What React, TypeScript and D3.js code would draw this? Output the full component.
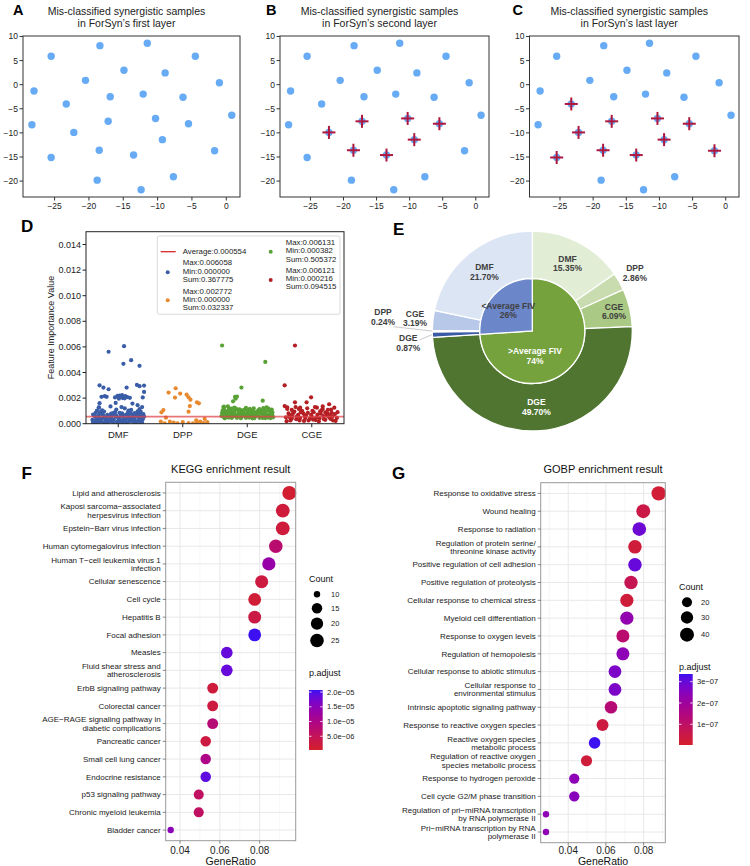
import React from "react";
import * as d3 from "d3";

const FONT = "'Liberation Sans', Arial, Helvetica, sans-serif";

// ---------- A-C: embedding of the synergistic samples ----------
const sampleX = [-25.5, -18.4, -11.5, -4.5, -14.9, -8.9, -1.0, -20.5, -28.0, -16.9, -12.1, -6.3, -23.3, -10.3, 0.8, -28.3, -17.2, -5.5, -22.2, -9.3, -18.5, -13.5, -1.7, -25.5, -18.8, -7.7, -12.4];
const sampleY = [5.9, 8.1, 8.6, 5.9, 3.0, 2.45, 0.4, 0.9, -1.3, -2.5, -1.95, -2.6, -4.0, -7.0, -6.35, -8.3, -7.6, -8.1, -9.9, -11.4, -13.6, -14.6, -13.7, -15.1, -19.8, -19.1, -21.8];
const missedFirst: number[] = [];
const missedSecond = [13, 16, 17, 18, 19, 20, 21];
const missedLast = [12, 13, 16, 17, 18, 19, 20, 21, 22, 23];
const tsneXTicks = [-25, -20, -15, -10, -5, 0];
const tsneYTicks = [10, 5, 0, -5, -10, -15, -20];

// ---------- D: feature importance values ----------
const stripCats = ["DMF", "DPP", "DGE", "CGE"];
// [jitter offset (fraction of category step), value x 1e-4]
const dmfPoints = [
  [-0.39, 1], [-0.34, 4], [-0.3, 7], [-0.27, 2], [-0.22, 5], [-0.18, 0.8], [-0.14, 6], [-0.1, 3], [-0.06, 7.5], [-0.02, 1.5],
  [0.02, 5], [0.06, 2.5], [0.1, 6.5], [0.14, 0.5], [0.18, 4], [0.22, 7], [0.26, 2], [0.3, 5.5], [0.34, 1], [0.38, 3.5],
  [-0.37, 6], [-0.32, 2.5], [-0.25, 7.5], [-0.2, 3], [-0.16, 1.2], [-0.12, 4.5], [-0.08, 0.6], [-0.04, 5.5], [0, 2], [0.04, 7],
  [0.08, 3.5], [0.12, 1], [0.16, 6], [0.2, 2.5], [0.24, 4.5], [0.28, 0.7], [0.32, 7], [0.36, 3], [0.4, 5.5], [-0.4, 3],
  [-0.29, 4.5], [-0.11, 7.8], [0.01, 3.8], [0.09, 0.4], [0.27, 6.2], [0.39, 7.5], [-0.35, 8.5], [-0.05, 9], [0.15, 8.7], [0.35, 9.2],
  [-0.24, 0.4], [0.23, 0.3], [-0.36, 0.3], [-0.13, 2], [0.05, 0.9], [0.31, 2.8], [-0.08, 8.2], [0.19, 8], [-0.28, 9],
  [-0.38, 2], [-0.33, 5.5], [-0.31, 0.5], [-0.26, 3.5], [-0.23, 6.5], [-0.21, 1], [-0.19, 4], [-0.17, 7], [-0.15, 2.5], [-0.11, 5],
  [-0.09, 1.8], [-0.07, 3.2], [-0.03, 6.3], [-0.01, 0.8], [0.03, 2.7], [0.07, 5.8], [0.11, 3], [0.13, 7.2], [0.17, 1.7], [0.21, 5],
  [0.25, 3.2], [0.29, 7.8], [0.33, 4.2], [0.37, 0.9], [0.39, 5.8], [-0.39, 7.2], [-0.35, 1.7], [-0.27, 8], [-0.17, 5.2], [-0.09, 6.8],
  [0, 4.5], [0.06, 8], [0.13, 3.8], [0.25, 8.2], [0.36, 6.5], [-0.22, 9.5], [0.02, 8.5], [0.3, 9.7], [-0.33, 10.2], [0.16, 10.3],
  [-0.3, 12.5], [-0.25, 10.5], [-0.03, 11], [0.1, 12], [0.2, 10.8], [0.33, 11.5], [0.37, 13], [-0.3, 12.8], [-0.29, 16], [-0.04, 16.2],
  [0.22, 15.7], [0.3, 14.5], [-0.12, 13.5], [0.05, 13],
  [-0.26, 21], [-0.21, 21.5], [-0.18, 21], [-0.05, 20.5], [0.01, 19.5], [0.04, 21.5], [0.08, 21], [0.11, 21.5], [0.14, 20.8], [0.18, 20.2],
  [0.07, 20], [0.38, 20.5], [0.4, 24.8], [0.02, 22], [0.1, 19.8], [-0.01, 21.8], [0.06, 22.3],
  [-0.29, 30], [-0.23, 28.2], [-0.15, 26.9], [0.13, 28.2], [0.29, 30.3], [0.33, 29.3], [0.4, 29.8],
  [-0.15, 56.2], [0.09, 60.6], [0.08, 46.8], [0.2, 49.6], [0.33, 45.2],
];
const dppPoints = [
  [-0.11, 27.7], [-0.22, 24.3], [-0.04, 23.5], [-0.12, 20.4], [0.06, 22.7], [0.09, 20.6], [0.12, 18.8], [0.22, 16.7], [0.25, 15.9], [0.11, 13.8],
  [0.09, 9.4], [-0.3, 10.7], [-0.33, 8.9], [-0.26, 4.7], [-0.34, 1.6], [-0.2, 1.6], [-0.14, 0.8], [0, 1.3], [0.09, 0.5], [0.22, 0.6],
  [0.27, 1.6], [0.32, 0.4], [0.21, 2.6], [0.34, 3.7], [0.16, 0.3], [-0.28, 0.2], [0.38, 1.2], [-0.08, 0.3],
];
const dgePoints = [
  [-0.4, 6], [-0.36, 8], [-0.33, 5], [-0.3, 10], [-0.27, 7], [-0.24, 4.5], [-0.21, 9], [-0.18, 6], [-0.15, 11], [-0.12, 7.5],
  [-0.09, 5], [-0.06, 9.5], [-0.03, 6.5], [0, 8], [0.03, 4.8], [0.06, 10], [0.09, 7], [0.12, 5.5], [0.15, 9], [0.18, 6],
  [0.21, 8.5], [0.24, 4.5], [0.27, 10.5], [0.3, 7], [0.33, 5.5], [0.36, 9], [0.39, 6.5], [-0.38, 10.5], [-0.35, 4.2], [-0.31, 7.5],
  [-0.28, 12], [-0.25, 8.5], [-0.22, 5.8], [-0.19, 7], [-0.16, 4.6], [-0.13, 9.8], [-0.1, 8], [-0.07, 6.2], [-0.04, 11], [-0.01, 5.5],
  [0.02, 9], [0.05, 6.5], [0.08, 8.8], [0.11, 4.4], [0.14, 7.5], [0.17, 10.5], [0.2, 5.2], [0.23, 7.8], [0.26, 6], [0.29, 9.5],
  [0.32, 4.8], [0.35, 7.5], [0.38, 11], [0.4, 5], [-0.37, 13], [-0.2, 12.5], [0.1, 12], [0.3, 12.8], [-0.3, 13.5], [0.0, 10.5],
  [-0.39, 8.5], [-0.37, 5.5], [-0.34, 9.5], [-0.32, 6.5], [-0.29, 4.8], [-0.26, 10], [-0.23, 7], [-0.2, 9.8], [-0.17, 5.5], [-0.14, 8],
  [-0.11, 6], [-0.08, 10.5], [-0.05, 7.8], [-0.02, 4.6], [0.01, 6.8], [0.04, 8.6], [0.07, 5.6], [0.1, 9.6], [0.13, 6.4], [0.16, 8.2],
  [0.19, 4.6], [0.22, 10.2], [0.25, 6.8], [0.28, 8.3], [0.31, 5.8], [0.34, 10.6], [0.37, 6.2], [0.39, 8.8], [-0.36, 11.5], [-0.24, 11.8],
  [-0.12, 11.3], [0.04, 11.6], [0.19, 11.5], [0.33, 11.8], [-0.02, 12.3], [0.25, 12.2], [-0.38, 7.2], [-0.1, 4.3], [0.08, 4.2], [0.28, 4.4],
  [0.15, 6.8], [-0.27, 5.8], [0.36, 4.4],
  [-0.39, 61.1], [0.28, 48.3], [-0.09, 28.2], [-0.19, 20.9], [-0.16, 21.2], [-0.18, 19.5], [-0.22, 17.5], [0.24, 18], [-0.36, 13.3], [-0.18, 12],
];
const cgePoints = [
  [-0.4, 5], [-0.36, 8], [-0.33, 2.5], [-0.3, 6], [-0.27, 9.5], [-0.24, 3.5], [-0.21, 7], [-0.18, 4.5], [-0.15, 10], [-0.12, 2.2],
  [-0.09, 6.5], [-0.06, 8.5], [-0.03, 3.8], [0, 5.5], [0.03, 9], [0.06, 2.8], [0.09, 7.2], [0.12, 4.2], [0.15, 10.5], [0.18, 6],
  [0.21, 3], [0.24, 8], [0.27, 5], [0.3, 11], [0.33, 2.5], [0.36, 7.5], [0.39, 4.5], [-0.38, 11.5], [-0.31, 4], [-0.25, 13],
  [-0.19, 2.5], [-0.13, 8], [-0.07, 12], [-0.01, 7], [0.05, 13], [0.11, 1.8], [0.17, 11.5], [0.23, 6.5], [0.29, 3.8], [0.35, 12.5],
  [0.4, 9], [-0.42, 13.8], [-0.38, 12.8], [-0.35, 7], [-0.1, 4.5], [0.14, 7.8], [0.31, 8.5],
  [-0.39, 2], [-0.34, 5], [-0.29, 8.2], [-0.23, 5.8], [-0.17, 9], [-0.11, 6], [-0.05, 2.5], [0.01, 10], [0.07, 5], [0.13, 9.5],
  [0.19, 3.5], [0.25, 10.8], [0.32, 5.5], [0.37, 2.2], [-0.2, 11.5], [0.08, 12.5], [0.28, 7.2], [-0.31, 10.8], [0.02, 3.2], [0.21, 8.8],
  [-0.26, 61.1], [-0.42, 30], [-0.01, 20.6], [-0.08, 16.7], [-0.26, 16.7], [0.27, 15.2], [0.17, 13.5], [-0.18, 12.5],
];
const stripPoints = [dmfPoints, dppPoints, dgePoints, cgePoints];
const statMax = ["0.006058", "0.002772", "0.006131", "0.006121"];
const statMin = ["0.000000", "0.000000", "0.000382", "0.000216"];
const statSum = ["0.367775", "0.032337", "0.505372", "0.094515"];
const averageFIV = 0.000554;

// ---------- E: share of importance ----------
const fivGroups = [">Average FIV", "<Average FIV"];
const fivShares = [74, 26];
const outerNames = ["DMF", "DPP", "CGE", "DGE", "DGE", "DPP", "CGE", "DMF"];
const outerShares = [15.35, 2.86, 6.09, 49.7, 0.87, 0.24, 3.19, 21.7];

// ---------- F: KEGG ----------
const keggTerms = [
  "Lipid and atherosclerosis",
  "Kaposi sarcoma\u2212associated\nherpesvirus infection",
  "Epstein\u2212Barr virus infection",
  "Human cytomegalovirus infection",
  "Human T\u2212cell leukemia virus 1\ninfection",
  "Cellular senescence",
  "Cell cycle",
  "Hepatitis B",
  "Focal adhesion",
  "Measles",
  "Fluid shear stress and\natherosclerosis",
  "ErbB signaling pathway",
  "Colorectal cancer",
  "AGE\u2212RAGE signaling pathway in\ndiabetic complications",
  "Pancreatic cancer",
  "Small cell lung cancer",
  "Endocrine resistance",
  "p53 signaling pathway",
  "Chronic myeloid leukemia",
  "Bladder cancer",
];
const keggRatio = [0.0949, 0.0916, 0.0916, 0.0881, 0.0846, 0.081, 0.0775, 0.0775, 0.0775, 0.0635, 0.0635, 0.0564, 0.0564, 0.0564, 0.0529, 0.0529, 0.0529, 0.0494, 0.0494, 0.0353];
const keggCount = [27, 26, 26, 25, 24, 23, 22, 22, 22, 18, 18, 16, 16, 16, 15, 15, 15, 14, 14, 10];
const keggPadj = [1.0e-6, 2.0e-6, 2.0e-6, 7.5e-6, 1.35e-5, 2.5e-6, 1.5e-6, 3e-6, 2.07e-5, 1.85e-5, 1.85e-5, 2e-6, 2.5e-6, 8e-6, 2.5e-6, 1.0e-5, 1.9e-5, 6e-6, 6e-6, 1.5e-5];
const keggCountTicks = [10, 15, 20, 25];
const keggPadjTicks = [2e-5, 1.5e-5, 1e-5, 5e-6];
const keggPadjLabels = ["2.0e\u221205", "1.5e\u221205", "1.0e\u221205", "5.0e\u221206"];

// ---------- G: GOBP ----------
const gobpTerms = [
  "Response to oxidative stress",
  "Wound healing",
  "Response to radiation",
  "Regulation of protein serine/\nthreonine kinase activity",
  "Positive regulation of cell adhesion",
  "Positive regulation of proteolysis",
  "Cellular response to chemical stress",
  "Myeloid cell differentiation",
  "Response to oxygen levels",
  "Regulation of hemopoiesis",
  "Cellular response to abiotic stimulus",
  "Cellular response to\nenvironmental stimulus",
  "Intrinsic apoptotic signaling pathway",
  "Response to reactive oxygen species",
  "Reactive oxygen species\nmetabolic process",
  "Regulation of reactive oxygen\nspecies metabolic process",
  "Response to hydrogen peroxide",
  "Cell cycle G2/M phase transition",
  "Regulation of pri\u2212miRNA transcription\nby RNA polymerase II",
  "Pri\u2212miRNA transcription by RNA\npolymerase II",
];
const gobpRatio = [0.088, 0.0798, 0.0777, 0.0754, 0.0754, 0.0733, 0.0711, 0.0711, 0.069, 0.069, 0.0648, 0.0648, 0.0627, 0.0582, 0.054, 0.0497, 0.0432, 0.0432, 0.0282, 0.0282];
const gobpCount = [43, 39, 38, 37, 37, 36, 35, 35, 34, 34, 32, 32, 31, 28, 26, 24, 21, 21, 14, 14];
const gobpPadj = [2e-8, 5e-8, 2.9e-7, 3e-8, 3.0e-7, 7e-8, 3e-8, 2.3e-7, 1.2e-7, 2.4e-7, 2.7e-7, 2.7e-7, 1.3e-7, 4e-8, 3.36e-7, 3e-8, 2.4e-7, 2.5e-7, 2.4e-7, 2.4e-7];
const gobpCountTicks = [20, 30, 40];
const gobpPadjTicks = [3e-7, 2e-7, 1e-7];
const gobpPadjLabels = ["3e\u221207", "2e\u221207", "1e\u221207"];

const minus = (t: number) => (t < 0 ? "\u2212" + Math.abs(t) : String(t));

function TsnePanel({ letter, letterX, layer, left, right, missed }: any) {
  const top = 36;
  const bottom = 197;
  const x = d3.scaleLinear().domain([-29.6, 2.0]).range([left, right]);
  const y = d3.scaleLinear().domain([-23.3, 10.1]).range([bottom, top]);
  const cx = (left + right) / 2 - 5;
  return (
    <g>
      <text x={letterX} y={15} fontSize={14.5} fontWeight="bold">{letter}</text>
      <text x={cx} y={14.5} fontSize={10.5} textAnchor="middle" fill="#222">Mis-classified synergistic samples</text>
      <text x={cx} y={27} fontSize={10.5} textAnchor="middle" fill="#222">{`in ForSyn\u2019s ${layer} layer`}</text>
      {sampleX.map((sx, i) => (
        <circle key={i} cx={x(sx)} cy={y(sampleY[i])} r={3.7} fill="#68abf5" />
      ))}
      {missed.map((i: number) => (
        <g key={"m" + i} stroke="#b0173d" strokeWidth={2}>
          <line x1={x(sampleX[i]) - 6.5} x2={x(sampleX[i]) + 6.5} y1={y(sampleY[i])} y2={y(sampleY[i])} />
          <line x1={x(sampleX[i])} x2={x(sampleX[i])} y1={y(sampleY[i]) - 6.5} y2={y(sampleY[i]) + 6.5} />
        </g>
      ))}
      <rect x={left} y={top} width={right - left} height={bottom - top} fill="none" stroke="#333" strokeWidth={1} />
      {tsneYTicks.map((t) => (
        <g key={t}>
          <line x1={left - 3.5} x2={left} y1={y(t)} y2={y(t)} stroke="#333" />
          <text x={left - 5} y={y(t)} dy="0.35em" textAnchor="end" fontSize={8.5} fill="#222">{minus(t)}</text>
        </g>
      ))}
      {tsneXTicks.map((t) => (
        <g key={t}>
          <line x1={x(t)} x2={x(t)} y1={bottom} y2={bottom + 3.5} stroke="#333" />
          <text x={x(t)} y={208.5} textAnchor="middle" fontSize={8.5} fill="#222">{minus(t)}</text>
        </g>
      ))}
    </g>
  );
}

const stripColors = ["#3a5da8", "#e8892e", "#58a135", "#b41f24"];

function StripPanel() {
  const left = 86, right = 344, top = 231.7, bottom = 423.7;
  const x = d3.scalePoint<string>().domain(stripCats).range([left, right]).padding(0.5);
  const step = x.step();
  const y = d3.scaleLinear().domain([0, 0.015]).range([bottom, top]);
  const fmt = d3.format(".3f");
  const legendRows = (i: number, lx: number, cy: number) =>
    [`Max:${statMax[i]}`, `Min:${statMin[i]}`, `Sum:${statSum[i]}`].map((s, k) => (
      <text key={k} x={lx} y={cy + (k - 1) * 8.4} dy="0.35em" fontSize={7.8} fill="#222">{s}</text>
    ));
  return (
    <g>
      <text x={21} y={232} fontSize={17} fontWeight="bold">D</text>
      <defs>
        <clipPath id="stripClip">
          <rect x={left} y={top} width={right - left} height={bottom - top} />
        </clipPath>
      </defs>
      <g clipPath="url(#stripClip)">
        {stripPoints.map((pts, c) =>
          pts.map((p, k) => (
            <circle key={c + "-" + k} cx={(x(stripCats[c]) as number) + p[0] * step} cy={y(p[1] * 1e-4)} r={2.1} fill={stripColors[c]} />
          ))
        )}
        <line x1={left} x2={right} y1={y(averageFIV)} y2={y(averageFIV)} stroke="#e0474c" strokeOpacity={0.75} strokeWidth={1.6} />
      </g>
      <rect x={left} y={top} width={right - left} height={bottom - top} fill="none" stroke="#222" strokeWidth={1} />
      {y.ticks(8).map((t) => (
        <g key={t}>
          <line x1={left - 3.5} x2={left} y1={y(t)} y2={y(t)} stroke="#222" />
          <text x={left - 5} y={y(t)} dy="0.35em" textAnchor="end" fontSize={9} fill="#222">{fmt(t)}</text>
        </g>
      ))}
      {stripCats.map((c) => (
        <g key={c}>
          <line x1={x(c)} x2={x(c)} y1={bottom} y2={bottom + 3.5} stroke="#222" />
          <text x={x(c)} y={438} textAnchor="middle" fontSize={9.5} fill="#222">{c}</text>
        </g>
      ))}
      <text transform="translate(50.5,327.5) rotate(-90)" textAnchor="middle" dy="0.35em" fontSize={9} fill="#222">Feature Importance Value</text>
      {/* legend */}
      <rect x={157.3} y={236} width={182.7} height={78.3} rx={2} fill="#fff" fillOpacity={0.85} stroke="#cfcfcf" strokeWidth={0.8} />
      <line x1={160.7} x2={175.7} y1={251.7} y2={251.7} stroke="#d62728" strokeWidth={1.3} />
      <text x={182.7} y={251.7} dy="0.35em" fontSize={7.8} fill="#222">{`Average:${averageFIV.toFixed(6)}`}</text>
      <circle cx={167.7} cy={272.3} r={2} fill={stripColors[0]} />
      {legendRows(0, 182.7, 271)}
      <circle cx={167.7} cy={300.3} r={2} fill={stripColors[1]} />
      {legendRows(1, 182.7, 299.3)}
      <circle cx={270.7} cy={251.7} r={2} fill={stripColors[2]} />
      {legendRows(2, 285.7, 250.7)}
      <circle cx={270.7} cy={280} r={2} fill={stripColors[3]} />
      {legendRows(3, 285.7, 278.3)}
    </g>
  );
}

const innerColors = ["#75a23d", "#6b86c9"];
const outerColors = ["#e2edd5", "#c8dcb0", "#a9c985", "#4f7530", "#3b5aa6", "#4d6cb5", "#b7c8e8", "#dce5f4"];

function DonutPanel() {
  const cx = 532.3, cy = 331, R = 100, r0 = 52.5;
  const pie = d3.pie<number>().sort(null).value((d) => d);
  const outer = pie(outerShares);
  const inner = pie(fivShares);
  const outerArc = d3.arc<d3.PieArcDatum<number>>().innerRadius(r0).outerRadius(R);
  const innerArc = d3.arc<d3.PieArcDatum<number>>().innerRadius(0).outerRadius(r0);
  const polar = (a: number, r: number) => [Math.sin(a) * r, -Math.cos(a) * r];
  const mid = (d: d3.PieArcDatum<number>) => (d.startAngle + d.endAngle) / 2;
  // label placement: radius along the slice's mid angle, or a fixed spot with a leader line
  const labelRadius = [76, 118, 84, 76, 0, 0, 118, 76];
  const leaderSpots: Record<number, { at: number[]; from: number[] }> = {
    4: { at: [-124, 12.3], from: [-113, 9] },
    5: { at: [-149.3, -14], from: [-139, -4.3] },
  };
  const lightText = [false, false, false, true, false, false, false, false];
  const innerSpots = [[2.7, 25.3], [-24, -20.3]];
  const twoLines = (key: string, p: number[], a: string, b: string, fill: string) => (
    <g key={key} fontSize={8.5} fontWeight="bold" fill={fill} textAnchor="middle">
      <text x={p[0]} y={p[1] - 4.8} dy="0.35em">{a}</text>
      <text x={p[0]} y={p[1] + 4.8} dy="0.35em">{b}</text>
    </g>
  );
  return (
    <g>
      <text x={393} y={235} fontSize={17} fontWeight="bold">E</text>
      <g transform={`translate(${cx},${cy})`}>
        {outer.map((d, i) => (
          <path key={"o" + i} d={outerArc(d) as string} fill={outerColors[i]} stroke="#fff" strokeWidth={1.3} />
        ))}
        {inner.map((d, i) => (
          <path key={"i" + i} d={innerArc(d) as string} fill={innerColors[i]} stroke="#fff" strokeWidth={1.3} />
        ))}
        {outer.map((d, i) => {
          const pct = outerShares[i].toFixed(2) + "%";
          const spot = leaderSpots[i];
          if (spot) {
            const edge = polar(mid(d), R);
            return (
              <g key={"l" + i}>
                <line x1={edge[0]} y1={edge[1]} x2={spot.from[0]} y2={spot.from[1]} stroke="#bdbdbd" strokeWidth={0.8} />
                {twoLines("t" + i, spot.at, outerNames[i], pct, "#404040")}
              </g>
            );
          }
          const p = polar(mid(d), labelRadius[i]);
          return twoLines("l" + i, p, outerNames[i], pct, lightText[i] ? "#fff" : "#404040");
        })}
        {inner.map((d, i) =>
          twoLines("in" + i, innerSpots[i], fivGroups[i], fivShares[i] + "%", i === 0 ? "#fff" : "#404040")
        )}
      </g>
    </g>
  );
}

const padjColor = (domain: [number, number]) =>
  d3.scaleLinear<string>().domain(domain).range(["#d4202a", "#3c10f0"]).interpolate(d3.interpolateLab);

function DotPanel(props: any) {
  const {
    id, letter, letterX, title, left, right, top, bottom, xDomain, majorTicks, minorTicks,
    terms, ratio, count, padj, padjDomain, padjTicks, padjLabels, countTicks, sizeRange,
    legendX, countTitleY, padjTitleY, barTop, barBottom,
  } = props;
  const x = d3.scaleLinear().domain(xDomain).range([left, right]);
  const y = d3.scalePoint<string>().domain(terms).range([top, bottom]).padding(0.6);
  const cmin = d3.min(count as number[]) as number;
  const cmax = d3.max(count as number[]) as number;
  const size = (c: number) => sizeRange[0] + Math.sqrt((c - cmin) / (cmax - cmin)) * (sizeRange[1] - sizeRange[0]);
  const color = padjColor(padjDomain);
  const bar = d3.scaleLinear().domain(padjDomain).range([barBottom, barTop]);
  const keyY: number[] = [];
  countTicks.forEach((c: number, i: number) => {
    if (i === 0) keyY.push(countTitleY + 12.8);
    else keyY.push(keyY[i - 1] + Math.max(14, size(countTicks[i - 1]) + size(c) + 4));
  });
  const stops = d3.range(0, 1.01, 0.1);
  return (
    <g>
      <text x={letterX} y={479} fontSize={17} fontWeight="bold">{letter}</text>
      <text x={(left + right) / 2} y={472.5} fontSize={11} textAnchor="middle" fill="#111">{title}</text>
      <rect x={left} y={top} width={right - left} height={bottom - top} fill="#fff" />
      {minorTicks.map((t: number) => (
        <line key={"mn" + t} x1={x(t)} x2={x(t)} y1={top} y2={bottom} stroke="#f3f3f3" strokeWidth={0.7} />
      ))}
      {majorTicks.map((t: number) => (
        <line key={"mj" + t} x1={x(t)} x2={x(t)} y1={top} y2={bottom} stroke="#e8e8e8" strokeWidth={1} />
      ))}
      {terms.map((t: string) => (
        <line key={"h" + t} x1={left} x2={right} y1={y(t)} y2={y(t)} stroke="#e8e8e8" strokeWidth={1} />
      ))}
      {terms.map((t: string, i: number) => (
        <circle key={"d" + i} cx={x(ratio[i])} cy={y(t)} r={size(count[i])} fill={color(padj[i])} />
      ))}
      <rect x={left} y={top} width={right - left} height={bottom - top} fill="none" stroke="#9a9a9a" strokeWidth={1} />
      {terms.map((t: string) => {
        const lines = t.split("\n");
        const yy = y(t) as number;
        return (
          <g key={"lab" + t}>
            <line x1={left - 3} x2={left} y1={yy} y2={yy} stroke="#555" strokeWidth={0.7} />
            {lines.map((s, k) => (
              <text key={k} x={left - 5} y={yy + (k - (lines.length - 1) / 2) * 8.3} dy="0.35em" textAnchor="end" fontSize={8} fill="#1a1a1a">{s}</text>
            ))}
          </g>
        );
      })}
      {majorTicks.map((t: number) => (
        <g key={"xt" + t}>
          <line x1={x(t)} x2={x(t)} y1={bottom} y2={bottom + 3} stroke="#555" strokeWidth={0.7} />
          <text x={x(t)} y={853.8} textAnchor="middle" fontSize={10} fill="#222">{t.toFixed(2)}</text>
        </g>
      ))}
      <text x={(left + right) / 2} y={864.5} textAnchor="middle" fontSize={10.5} fill="#111">GeneRatio</text>
      {/* size legend */}
      <text x={legendX} y={countTitleY} fontSize={9} fill="#111">Count</text>
      {countTicks.map((c: number, i: number) => (
        <g key={"ck" + c}>
          <circle cx={legendX + 8} cy={keyY[i]} r={size(c)} fill="#000" />
          <text x={legendX + 22} y={keyY[i]} dy="0.35em" fontSize={7.5} fill="#222">{c}</text>
        </g>
      ))}
      {/* colour legend */}
      <defs>
        <linearGradient id={"grad" + id} x1="0" y1="1" x2="0" y2="0">
          {stops.map((s) => (
            <stop key={s} offset={s} stopColor={color(padjDomain[0] + s * (padjDomain[1] - padjDomain[0]))} />
          ))}
        </linearGradient>
      </defs>
      <text x={legendX} y={padjTitleY} fontSize={9} fill="#111">p.adjust</text>
      <rect x={legendX} y={barTop} width={13.7} height={barBottom - barTop} fill={`url(#grad${id})`} />
      {padjTicks.map((t: number, i: number) => (
        <g key={"pt" + i}>
          <line x1={legendX} x2={legendX + 2.5} y1={bar(t)} y2={bar(t)} stroke="#fff" strokeWidth={0.8} />
          <line x1={legendX + 11.2} x2={legendX + 13.7} y1={bar(t)} y2={bar(t)} stroke="#fff" strokeWidth={0.8} />
          <text x={legendX + 18} y={bar(t)} dy="0.35em" fontSize={7.5} fill="#222">{padjLabels[i]}</text>
        </g>
      ))}
    </g>
  );
}

const App = () => {
  return (
    <svg width={750} height={866} style={{ position: "absolute", left: 0, top: 0, background: "#fff" }} fontFamily={FONT}>
      <rect width={750} height={866} fill="#fff" />
      <TsnePanel letter="A" letterX={13} layer="first" left={23} right={240} missed={missedFirst} />
      <TsnePanel letter="B" letterX={266} layer="second" left={280} right={489} missed={missedSecond} />
      <TsnePanel letter="C" letterX={512.5} layer="last" left={529.5} right={739} missed={missedLast} />
      <StripPanel />
      <DonutPanel />
      <DotPanel
        id="kegg" letter="F" letterX={21.5} title="KEGG enrichment result"
        left={165.7} right={295.7} top={482.3} bottom={840.7}
        xDomain={[0.0328, 0.0981]} majorTicks={[0.04, 0.06, 0.08]} minorTicks={[0.05, 0.07, 0.09]}
        terms={keggTerms} ratio={keggRatio} count={keggCount} padj={keggPadj}
        padjDomain={[3.4e-7, 2.07e-5]} padjTicks={keggPadjTicks} padjLabels={keggPadjLabels}
        countTicks={keggCountTicks} sizeRange={[3.2, 7]}
        legendX={309} countTitleY={581.5} padjTitleY={675.5} barTop={690} barBottom={750}
      />
      <DotPanel
        id="gobp" letter="G" letterX={392} title="GOBP enrichment result"
        left={540.7} right={665.3} top={482.7} bottom={842.7}
        xDomain={[0.0254, 0.0915]} majorTicks={[0.04, 0.06, 0.08]} minorTicks={[0.03, 0.05, 0.07, 0.09]}
        terms={gobpTerms} ratio={gobpRatio} count={gobpCount} padj={gobpPadj}
        padjDomain={[3e-9, 3.36e-7]} padjTicks={gobpPadjTicks} padjLabels={gobpPadjLabels}
        countTicks={gobpCountTicks} sizeRange={[3.2, 7.2]}
        legendX={679} countTitleY={589.5} padjTitleY={670} barTop={674} barBottom={745}
      />
    </svg>
  );
};

export default App;
